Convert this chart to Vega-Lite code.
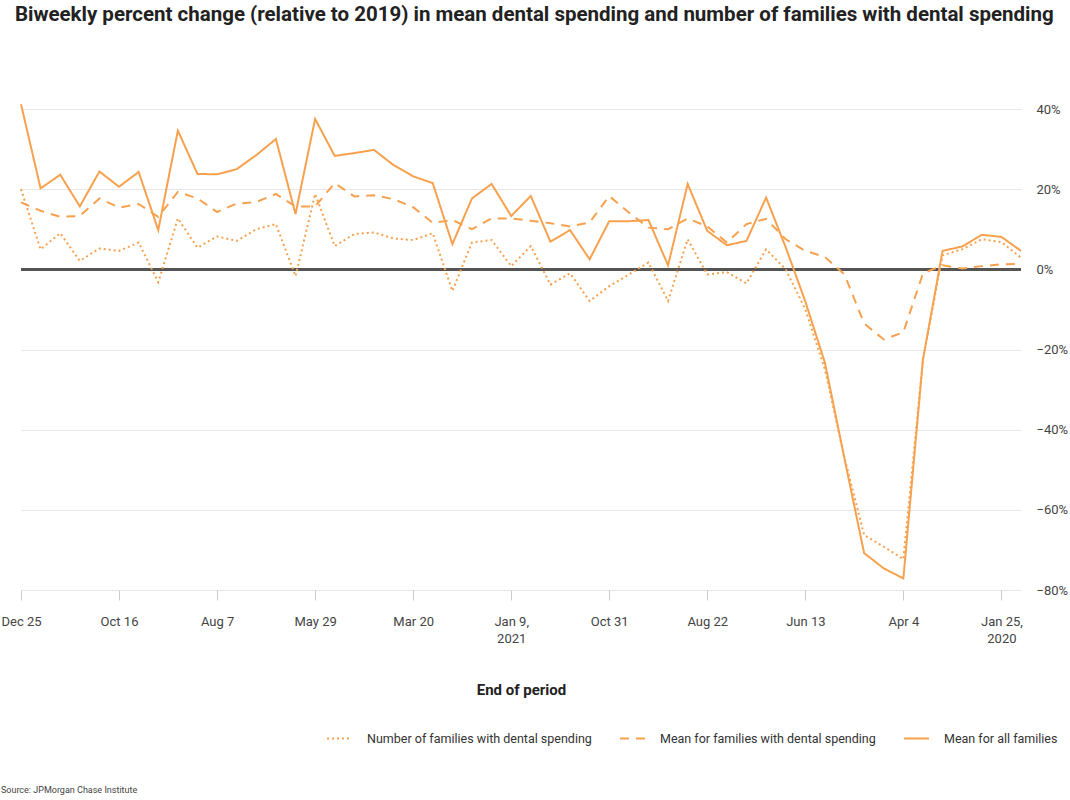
{
  "$schema": "https://vega.github.io/schema/vega-lite/v6.json",
  "background": "white",
  "padding": {"left": 0, "top": 4, "right": 5, "bottom": 0},
  "config": {
    "view": {"stroke": null},
    "font": "Roboto"
  },
  "title": {
    "text": "Biweekly percent change (relative to 2019) in mean dental spending and number of families with dental spending",
    "fontSize": 20.5,
    "fontWeight": "bold",
    "color": "#222222",
    "anchor": "middle",
    "offset": 75
  },
  "vconcat": [
    {
      "width": 1000,
      "height": 481,
      "title": {
        "text": "Source: JPMorgan Chase Institute",
        "orient": "bottom",
        "anchor": "start",
        "fontSize": 9,
        "fontWeight": "normal",
        "color": "#444444",
        "offset": 89
      },
      "data": {
        "values": [
          {"period": "2020-01-11", "all": 4.6, "dental": 1.4, "count": 2.9},
          {"period": "2020-01-25", "all": 8.1, "dental": 1.25, "count": 6.8},
          {"period": "2020-02-08", "all": 8.6, "dental": 0.8, "count": 7.5},
          {"period": "2020-02-22", "all": 5.7, "dental": 0.2, "count": 5.0},
          {"period": "2020-03-07", "all": 4.6, "dental": 1.0, "count": 3.5},
          {"period": "2020-03-21", "all": -22.5, "dental": -1.0, "count": -22.5},
          {"period": "2020-04-04", "all": -77.1, "dental": -15.7, "count": -72.3},
          {"period": "2020-04-18", "all": -74.6, "dental": -17.5, "count": -69.2},
          {"period": "2020-05-02", "all": -70.8, "dental": -13.5, "count": -66.3},
          {"period": "2020-05-16", "all": -47.3, "dental": -1.3, "count": -47.0},
          {"period": "2020-05-30", "all": -23.3, "dental": 3.1, "count": -25.0},
          {"period": "2020-06-13", "all": -8.0, "dental": 4.6, "count": -10.0},
          {"period": "2020-06-27", "all": 5.5, "dental": 7.5, "count": 0.0},
          {"period": "2020-07-11", "all": 17.9, "dental": 12.6, "count": 5.0},
          {"period": "2020-07-25", "all": 7.1, "dental": 11.3, "count": -3.5},
          {"period": "2020-08-08", "all": 6.0, "dental": 6.7, "count": -0.7},
          {"period": "2020-08-22", "all": 9.6, "dental": 10.7, "count": -1.3},
          {"period": "2020-09-05", "all": 21.3, "dental": 12.7, "count": 7.5},
          {"period": "2020-09-19", "all": 1.0, "dental": 10.0, "count": -7.9},
          {"period": "2020-10-03", "all": 12.3, "dental": 10.4, "count": 1.7},
          {"period": "2020-10-17", "all": 12.0, "dental": 14.2, "count": -1.3},
          {"period": "2020-10-31", "all": 12.0, "dental": 18.3, "count": -4.2},
          {"period": "2020-11-14", "all": 2.5, "dental": 11.7, "count": -7.9},
          {"period": "2020-11-28", "all": 9.8, "dental": 10.7, "count": -1.0},
          {"period": "2020-12-12", "all": 6.9, "dental": 11.5, "count": -3.8},
          {"period": "2020-12-26", "all": 18.3, "dental": 12.1, "count": 5.8},
          {"period": "2021-01-09", "all": 13.3, "dental": 12.7, "count": 0.8},
          {"period": "2021-01-23", "all": 21.3, "dental": 12.7, "count": 7.3},
          {"period": "2021-02-06", "all": 17.7, "dental": 10.0, "count": 6.7},
          {"period": "2021-02-20", "all": 6.3, "dental": 12.3, "count": -5.4},
          {"period": "2021-03-06", "all": 21.5, "dental": 11.6, "count": 9.0},
          {"period": "2021-03-20", "all": 23.2, "dental": 15.5, "count": 7.3},
          {"period": "2021-04-03", "all": 26.0, "dental": 17.5, "count": 7.7},
          {"period": "2021-04-17", "all": 29.8, "dental": 18.5, "count": 9.2},
          {"period": "2021-05-01", "all": 29.0, "dental": 18.2, "count": 8.8},
          {"period": "2021-05-15", "all": 28.3, "dental": 21.5, "count": 5.8},
          {"period": "2021-05-29", "all": 37.5, "dental": 15.7, "count": 18.8},
          {"period": "2021-06-12", "all": 13.8, "dental": 15.7, "count": -1.7},
          {"period": "2021-06-26", "all": 32.5, "dental": 18.8, "count": 11.3},
          {"period": "2021-07-10", "all": 28.5, "dental": 16.8, "count": 10.0},
          {"period": "2021-07-24", "all": 25.0, "dental": 16.4, "count": 7.1},
          {"period": "2021-08-07", "all": 23.7, "dental": 14.3, "count": 8.2},
          {"period": "2021-08-21", "all": 23.8, "dental": 17.7, "count": 5.4},
          {"period": "2021-09-04", "all": 34.6, "dental": 19.3, "count": 12.7},
          {"period": "2021-09-18", "all": 9.8, "dental": 13.1, "count": -3.2},
          {"period": "2021-10-02", "all": 24.3, "dental": 16.3, "count": 6.7},
          {"period": "2021-10-16", "all": 20.6, "dental": 15.4, "count": 4.6},
          {"period": "2021-10-30", "all": 24.4, "dental": 17.7, "count": 5.2},
          {"period": "2021-11-13", "all": 15.7, "dental": 13.3, "count": 2.1},
          {"period": "2021-11-27", "all": 23.6, "dental": 13.1, "count": 9.0},
          {"period": "2021-12-11", "all": 20.2, "dental": 14.6, "count": 5.0},
          {"period": "2021-12-25", "all": 41.2, "dental": 16.7, "count": 20.0}
        ]
      },
      "layer": [
        {
          "mark": {"type": "rule", "color": "#555555", "strokeWidth": 2},
          "encoding": {
            "y": {
              "datum": 0,
              "type": "quantitative",
              "scale": {"domain": [-80, 40], "nice": false, "zero": false},
              "axis": {
                "orient": "right",
                "values": [-80, -60, -40, -20, 0, 20, 40],
                "labelExpr": "datum.value < 0 ? '−' + (-datum.value) + '%' : datum.value + '%'",
                "title": null,
                "domain": false,
                "ticks": false,
                "grid": true,
                "gridColor": "#e6e6e6",
                "labelPadding": 15,
                "labelFontSize": 13,
                "labelColor": "#444444"
              }
            }
          }
        },
        {
          "transform": [{"fold": ["all", "dental", "count"], "as": ["series", "value"]}],
          "mark": {"type": "line", "color": "#F7A14E", "strokeWidth": 2},
          "encoding": {
            "x": {
              "field": "period",
              "type": "temporal",
              "scale": {"type": "utc", "nice": false, "reverse": true},
              "axis": {
                "values": [
                  {"year": 2020, "month": 1, "date": 25, "utc": true},
                  {"year": 2020, "month": 4, "date": 4, "utc": true},
                  {"year": 2020, "month": 6, "date": 13, "utc": true},
                  {"year": 2020, "month": 8, "date": 22, "utc": true},
                  {"year": 2020, "month": 10, "date": 31, "utc": true},
                  {"year": 2021, "month": 1, "date": 9, "utc": true},
                  {"year": 2021, "month": 3, "date": 20, "utc": true},
                  {"year": 2021, "month": 5, "date": 29, "utc": true},
                  {"year": 2021, "month": 8, "date": 7, "utc": true},
                  {"year": 2021, "month": 10, "date": 16, "utc": true},
                  {"year": 2021, "month": 12, "date": 25, "utc": true}
                ],
                "labelExpr": "utcmonth(datum.value) == 0 ? [utcFormat(datum.value, '%b %-d') + ',', utcFormat(datum.value, '%Y')] : utcFormat(datum.value, '%b %-d')",
                "labelAngle": 0,
                "labelFontSize": 13,
                "labelColor": "#444444",
                "labelLineHeight": 17,
                "labelPadding": 15,
                "labelOverlap": false,
                "labelFlush": false,
                "tickColor": "#cccccc",
                "tickSize": 10,
                "domain": false,
                "grid": false,
                "title": "End of period",
                "titleFontSize": 15,
                "titleFontWeight": "bold",
                "titleColor": "#222222",
                "titlePadding": 37
              }
            },
            "y": {
              "field": "value",
              "type": "quantitative",
              "scale": {"domain": [-80, 40], "nice": false, "zero": false},
              "axis": {
                "orient": "right",
                "values": [-80, -60, -40, -20, 0, 20, 40],
                "labelExpr": "datum.value < 0 ? '−' + (-datum.value) + '%' : datum.value + '%'",
                "title": null,
                "domain": false,
                "ticks": false,
                "grid": true,
                "gridColor": "#e6e6e6",
                "labelPadding": 15,
                "labelFontSize": 13,
                "labelColor": "#444444"
              }
            },
            "strokeDash": {
              "field": "series",
              "type": "nominal",
              "scale": {"domain": ["count", "dental", "all"], "range": [[2, 3], [9, 7], [1, 0]]},
              "legend": {
                "orient": "none",
                "legendX": 305,
                "legendY": 616,
                "direction": "horizontal",
                "title": null,
                "labelExpr": "datum.value == 'all' ? 'Mean for all families' : datum.value == 'dental' ? 'Mean for families with dental spending' : 'Number of families with dental spending'",
                "symbolType": "stroke",
                "symbolStrokeColor": "#F7A14E",
                "symbolStrokeWidth": 2,
                "symbolSize": 625,
                "labelFontSize": 12.5,
                "labelColor": "#333333",
                "labelLimit": 400,
                "labelOffset": 14,
                "columnPadding": 24
              }
            }
          }
        }
      ]
    }
  ]
}
